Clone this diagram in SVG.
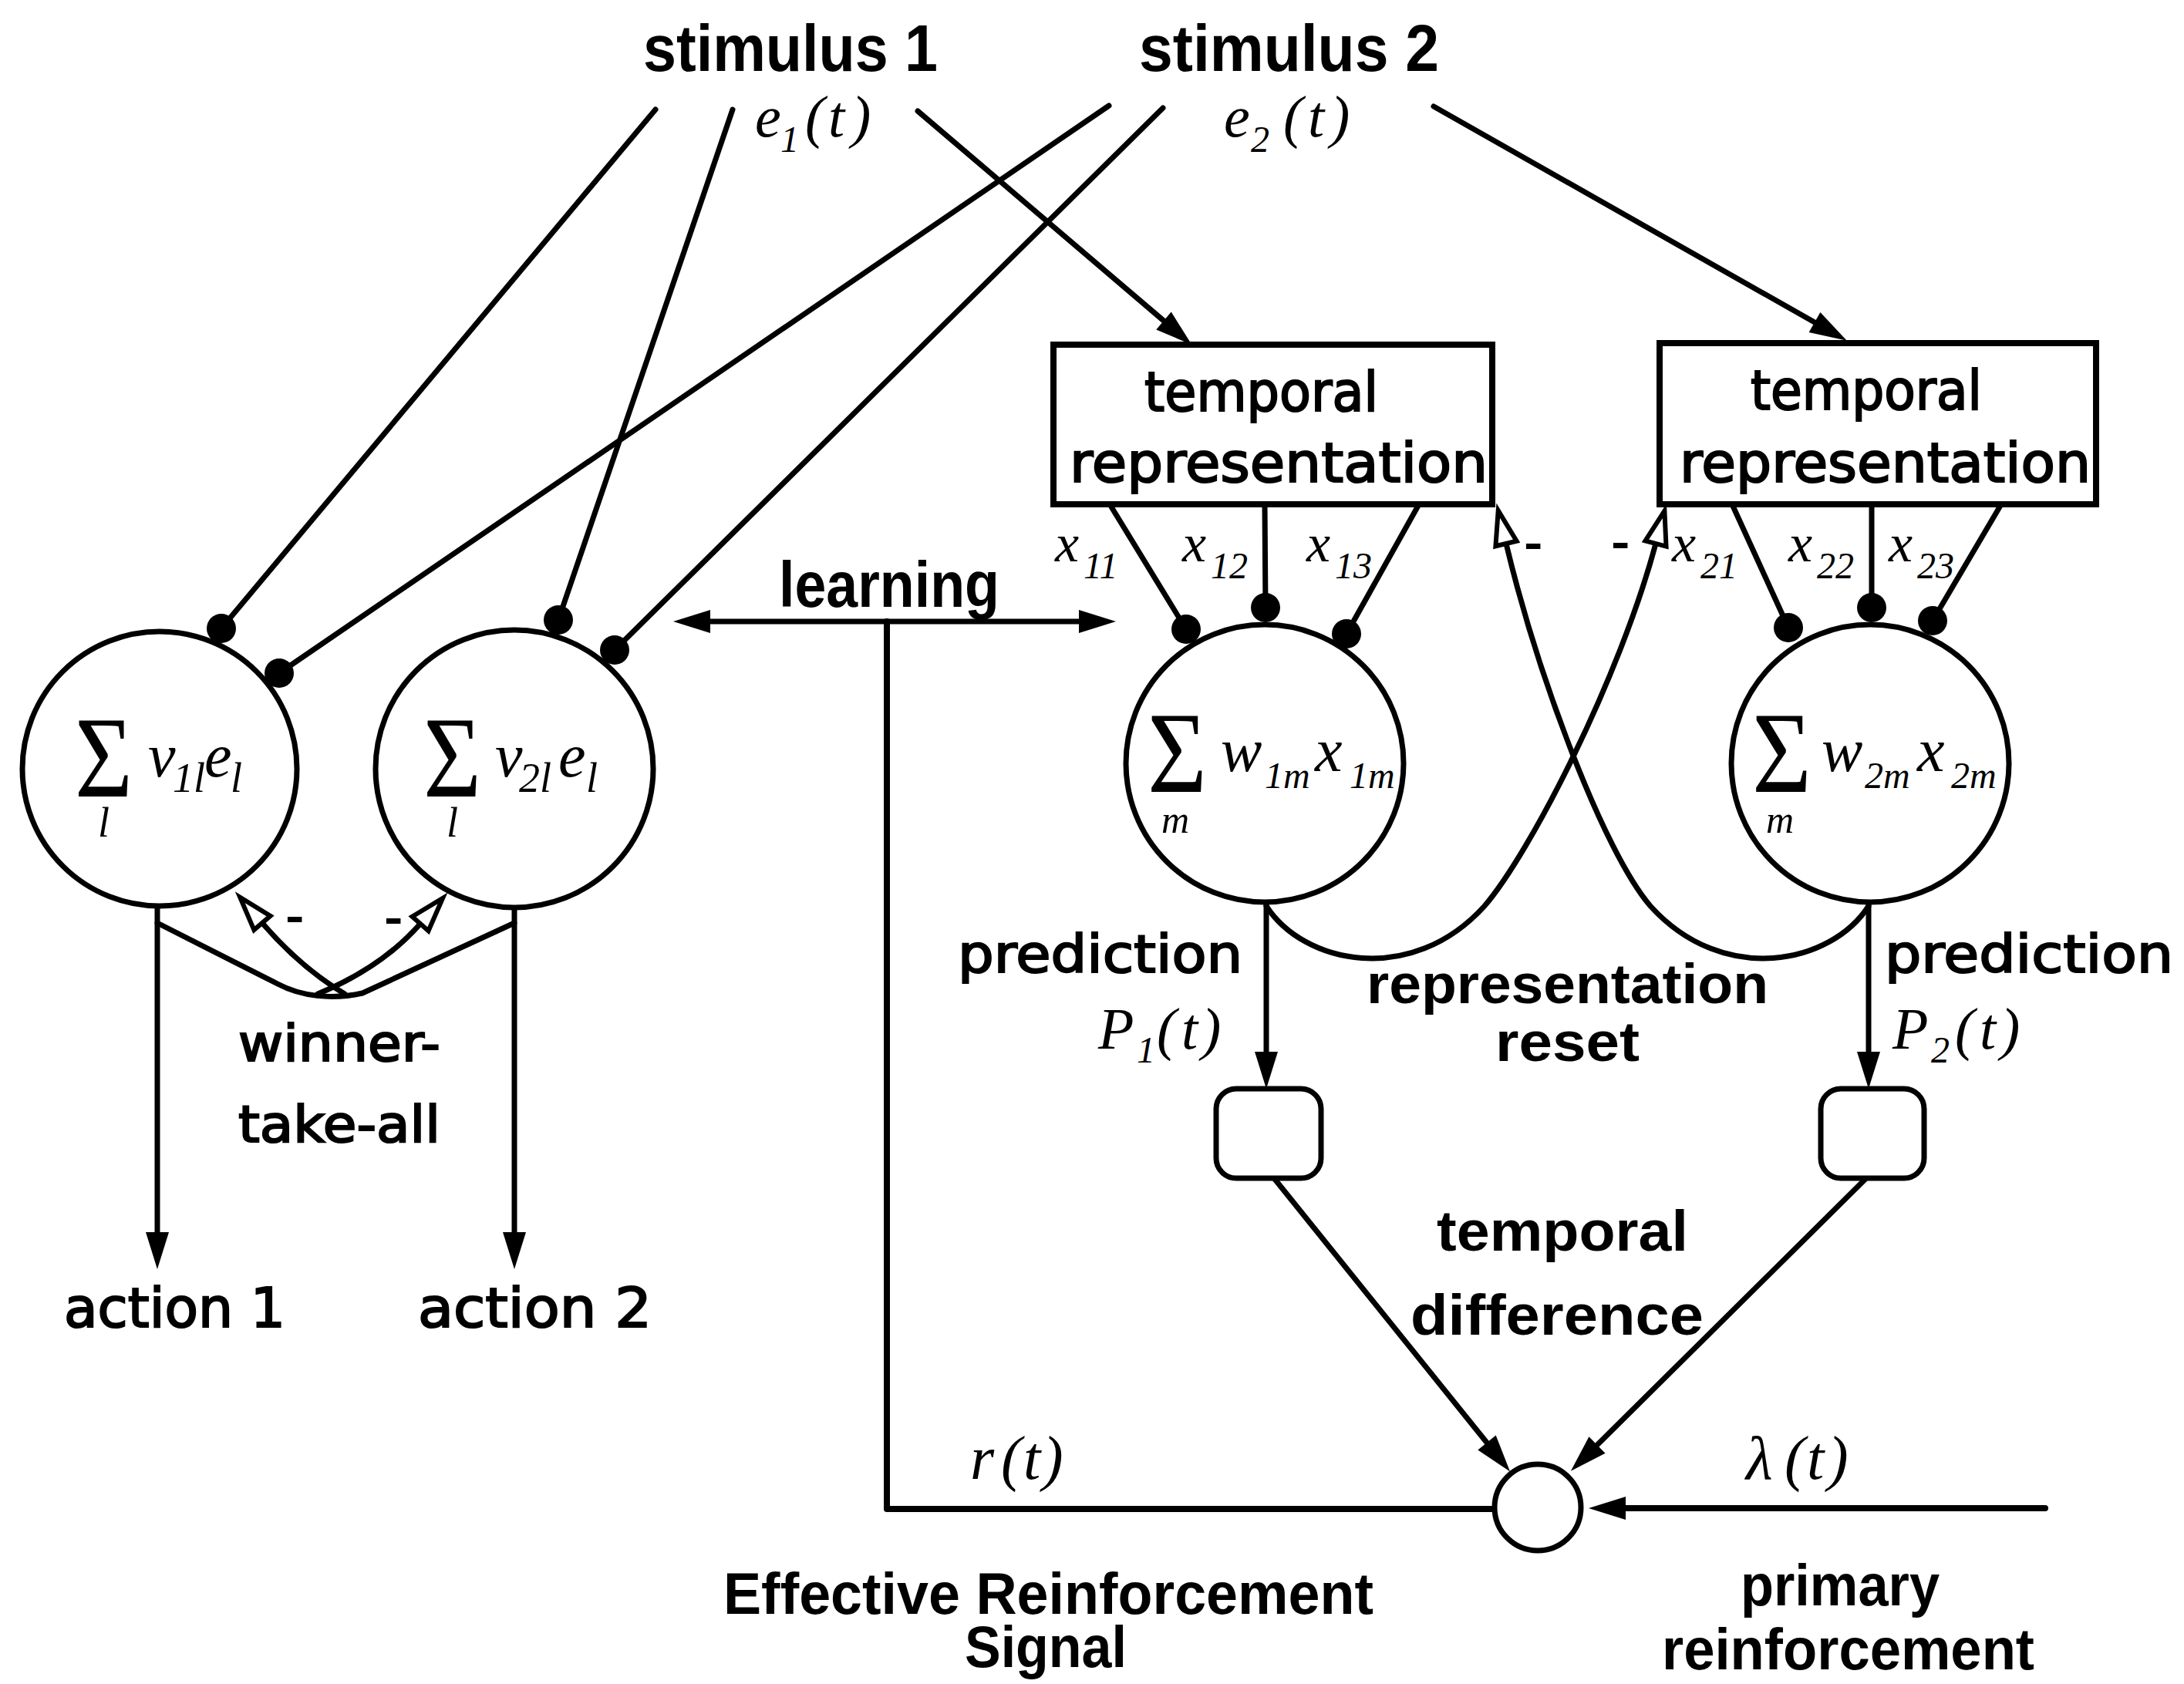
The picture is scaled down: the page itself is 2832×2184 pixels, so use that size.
<svg xmlns="http://www.w3.org/2000/svg" width="2832" height="2184" viewBox="0 0 2832 2184">
  <style>
    .ln { stroke: #000; stroke-width: 7; fill: none; stroke-linecap: round; stroke-linejoin: round; }
    .node { fill: #fff; stroke: #000; stroke-width: 7; }
    .box { fill: #fff; stroke: #000; stroke-width: 8; }
    .dot { fill: #000; }
    .g { font-family: "DejaVu Sans", Verdana, sans-serif; font-weight: normal; fill: #000; stroke: #000; stroke-width: 2.2; }
    .hb { font-family: "Liberation Sans", Arial, sans-serif; font-weight: bold; fill: #000; }
    .mi { font-family: "Liberation Serif", "Times New Roman", serif; font-style: italic; fill: #000; }
    .sig { font-family: "Liberation Serif", "Times New Roman", serif; font-style: normal; }
  </style>
  <defs>
    <marker id="ah" markerUnits="userSpaceOnUse" viewBox="0 -20 60 40" markerWidth="60" markerHeight="40" refX="0" refY="0" orient="auto-start-reverse" overflow="visible">
      <path d="M0,-15 L48,0 L0,15 z" fill="#000"/>
    </marker>
    <marker id="oa" markerUnits="userSpaceOnUse" viewBox="0 -20 60 40" markerWidth="60" markerHeight="40" refX="0" refY="0" orient="auto" overflow="visible">
      <path d="M0,-14 L44,0 L0,14 z" fill="#fff" stroke="#000" stroke-width="6" stroke-linejoin="miter"/>
    </marker>
  </defs>
  <rect width="2832" height="2184" fill="#fff"/>

  <!-- connectors -->
  <g id="connectors">
    <!-- stimulus inputs to action units -->
    <line class="ln" x1="850" y1="142" x2="287" y2="815"/>
    <line class="ln" x1="1438" y1="137" x2="362" y2="873"/>
    <line class="ln" x1="950" y1="142" x2="724" y2="804"/>
    <line class="ln" x1="1508" y1="140" x2="797" y2="843"/>
    <!-- stimulus inputs to temporal representations -->
    <line class="ln" x1="1190" y1="144" x2="1509" y2="416" marker-end="url(#ah)"/>
    <line class="ln" x1="1859" y1="138" x2="2353" y2="418" marker-end="url(#ah)"/>
    <!-- representation components x_1m, x_2m -->
    <line class="ln" x1="1439" y1="654" x2="1538" y2="816"/>
    <line class="ln" x1="1640" y1="654" x2="1641" y2="788"/>
    <line class="ln" x1="1840" y1="654" x2="1746" y2="822"/>
    <line class="ln" x1="2246" y1="654" x2="2319" y2="814"/>
    <line class="ln" x1="2427" y1="654" x2="2427" y2="788"/>
    <line class="ln" x1="2595" y1="654" x2="2506" y2="805"/>
    <!-- synapses -->
    <circle class="dot" cx="287" cy="815" r="19"/>
    <circle class="dot" cx="362" cy="873" r="19"/>
    <circle class="dot" cx="724" cy="804" r="19"/>
    <circle class="dot" cx="797" cy="843" r="19"/>
    <circle class="dot" cx="1538" cy="816" r="19"/>
    <circle class="dot" cx="1641" cy="788" r="19"/>
    <circle class="dot" cx="1746" cy="822" r="19"/>
    <circle class="dot" cx="2319" cy="814" r="19"/>
    <circle class="dot" cx="2427" cy="788" r="19"/>
    <circle class="dot" cx="2506" cy="805" r="19"/>
    <!-- action outputs -->
    <line class="ln" x1="204" y1="1176" x2="204" y2="1598" marker-end="url(#ah)"/>
    <line class="ln" x1="667" y1="1177" x2="667" y2="1598" marker-end="url(#ah)"/>
    <!-- winner-take-all -->
    <path class="ln" d="M204,1197 L360,1276 C390,1292 430,1297 470,1288 L667,1197"/>
    <path class="ln" d="M447,1289 Q390,1255 340,1197" marker-end="url(#oa)"/>
    <path class="ln" d="M412,1289 Q495,1255 545,1198" marker-end="url(#oa)"/>
    <!-- learning -->
    <line class="ln" x1="921" y1="806" x2="1399" y2="806" marker-start="url(#ah)" marker-end="url(#ah)"/>
    <polyline class="ln" points="1150,806 1150,1957 1938,1957" style="stroke-width:8"/>
    <!-- predictions -->
    <line class="ln" x1="1642" y1="1170" x2="1642" y2="1364" marker-end="url(#ah)"/>
    <line class="ln" x1="2423" y1="1170" x2="2423" y2="1364" marker-end="url(#ah)"/>
    <!-- representation reset -->
    <path class="ln" d="M1642,1175 C1690,1250 1830,1280 1925,1175 C1985,1105 2100,880 2147,705" marker-end="url(#oa)"/>
    <path class="ln" d="M2423,1175 C2375,1250 2235,1280 2140,1175 C2080,1105 1995,880 1953,705" marker-end="url(#oa)"/>
    <!-- temporal difference -->
    <line class="ln" x1="1652" y1="1528" x2="1928" y2="1871" marker-end="url(#ah)"/>
    <line class="ln" x1="2420" y1="1528" x2="2071" y2="1874" marker-end="url(#ah)"/>
    <!-- primary reinforcement -->
    <line class="ln" x1="2652" y1="1956" x2="2108" y2="1956" marker-end="url(#ah)" style="stroke-width:8"/>
  </g>

  <!-- stimulus labels -->
  <g id="stimulus1">
    <text class="hb" x="834" y="92" font-size="86" textLength="382" lengthAdjust="spacingAndGlyphs">stimulus 1</text>
    <text class="mi" font-size="76" y="177"><tspan x="979">e</tspan><tspan x="1012" y="197" font-size="48">1</tspan><tspan x="1044" y="177">(</tspan><tspan x="1074">t</tspan><tspan x="1104">)</tspan></text>
  </g>
  <g id="stimulus2">
    <text class="hb" x="1477" y="92" font-size="86" textLength="389" lengthAdjust="spacingAndGlyphs">stimulus 2</text>
    <text class="mi" font-size="76" y="177"><tspan x="1587">e</tspan><tspan x="1622" y="197" font-size="48">2</tspan><tspan x="1664" y="177">(</tspan><tspan x="1696">t</tspan><tspan x="1725">)</tspan></text>
  </g>

  <!-- temporal representation boxes -->
  <g id="temporal-representation-1">
    <rect class="box" x="1366" y="447" width="569" height="207"/>
    <text class="g" x="1484" y="533" font-size="72" textLength="303" lengthAdjust="spacingAndGlyphs">temporal</text>
    <text class="g" x="1387" y="625" font-size="72" textLength="542" lengthAdjust="spacingAndGlyphs">representation</text>
  </g>
  <g id="temporal-representation-2">
    <rect class="box" x="2152" y="445" width="566" height="209"/>
    <text class="g" x="2270" y="531" font-size="72" textLength="300" lengthAdjust="spacingAndGlyphs">temporal</text>
    <text class="g" x="2178" y="625" font-size="72" textLength="533" lengthAdjust="spacingAndGlyphs">representation</text>
  </g>

  <!-- component labels -->
  <g id="components">
    <text class="mi" font-size="70" y="728"><tspan x="1368">x</tspan><tspan x="1405" y="750" font-size="48">11</tspan></text>
    <text class="mi" font-size="70" y="728"><tspan x="1533">x</tspan><tspan x="1570" y="750" font-size="48">12</tspan></text>
    <text class="mi" font-size="70" y="728"><tspan x="1694">x</tspan><tspan x="1731" y="750" font-size="48">13</tspan></text>
    <text class="mi" font-size="70" y="728"><tspan x="2168">x</tspan><tspan x="2205" y="750" font-size="48">21</tspan></text>
    <text class="mi" font-size="70" y="728"><tspan x="2319">x</tspan><tspan x="2356" y="750" font-size="48">22</tspan></text>
    <text class="mi" font-size="70" y="728"><tspan x="2449">x</tspan><tspan x="2486" y="750" font-size="48">23</tspan></text>
    <text class="g" x="1977" y="726" font-size="62">-</text>
    <text class="g" x="2090" y="725" font-size="62">-</text>
  </g>

  <!-- action units: weighted sums of stimulus traces -->
  <g id="action-unit-1">
    <circle class="node" cx="207" cy="997" r="178"/>
    <text class="mi" font-size="80"><tspan class="sig" x="97" y="1033" font-size="150" textLength="75" lengthAdjust="spacingAndGlyphs">Σ</tspan><tspan x="127" y="1085" font-size="54">l</tspan><tspan x="192" y="1007">v</tspan><tspan x="224" y="1027" font-size="54">1l</tspan><tspan x="265" y="1007">e</tspan><tspan x="299" y="1027" font-size="54">l</tspan></text>
  </g>
  <g id="action-unit-2">
    <circle class="node" cx="667" cy="997" r="180"/>
    <text class="mi" font-size="80"><tspan class="sig" x="549" y="1033" font-size="150" textLength="75" lengthAdjust="spacingAndGlyphs">Σ</tspan><tspan x="579" y="1085" font-size="54">l</tspan><tspan x="642" y="1007">v</tspan><tspan x="673" y="1027" font-size="54">2l</tspan><tspan x="724" y="1007">e</tspan><tspan x="760" y="1027" font-size="54">l</tspan></text>
  </g>

  <!-- prediction units: weighted sums of representation components -->
  <g id="prediction-unit-1">
    <circle class="node" cx="1640" cy="990" r="180"/>
    <text class="mi" font-size="80"><tspan class="sig" x="1488" y="1027" font-size="150" textLength="77" lengthAdjust="spacingAndGlyphs">Σ</tspan><tspan x="1506" y="1080" font-size="50">m</tspan><tspan x="1583" y="1000">w</tspan><tspan x="1640" y="1022" font-size="48">1m</tspan><tspan x="1705" y="1000">x</tspan><tspan x="1750" y="1022" font-size="48">1m</tspan></text>
  </g>
  <g id="prediction-unit-2">
    <circle class="node" cx="2425" cy="990" r="180"/>
    <text class="mi" font-size="80"><tspan class="sig" x="2272" y="1027" font-size="150" textLength="77" lengthAdjust="spacingAndGlyphs">Σ</tspan><tspan x="2290" y="1080" font-size="50">m</tspan><tspan x="2362" y="1000">w</tspan><tspan x="2418" y="1022" font-size="48">2m</tspan><tspan x="2486" y="1000">x</tspan><tspan x="2530" y="1022" font-size="48">2m</tspan></text>
  </g>

  <!-- winner-take-all label and actions -->
  <g id="winner-take-all">
    <text class="g" x="309" y="1376" font-size="66" textLength="262" lengthAdjust="spacingAndGlyphs">winner-</text>
    <text class="g" x="309" y="1481" font-size="66" textLength="262" lengthAdjust="spacingAndGlyphs">take-all</text>
    <text class="g" x="371" y="1210" font-size="62">-</text>
    <text class="g" x="499" y="1212" font-size="62">-</text>
  </g>
  <g id="action1">
    <text class="g" x="83" y="1721" font-size="72" textLength="287" lengthAdjust="spacingAndGlyphs">action 1</text>
  </g>
  <g id="action2">
    <text class="g" x="542" y="1721" font-size="72" textLength="303" lengthAdjust="spacingAndGlyphs">action 2</text>
  </g>

  <!-- learning label -->
  <g id="learning">
    <text class="hb" x="1010" y="787" font-size="84" textLength="286" lengthAdjust="spacingAndGlyphs">learning</text>
  </g>

  <!-- prediction labels -->
  <g id="prediction-label-1">
    <text class="g" x="1242" y="1261" font-size="68" textLength="369" lengthAdjust="spacingAndGlyphs">prediction</text>
    <text class="mi" font-size="76" y="1360"><tspan x="1424">P</tspan><tspan x="1474" y="1378" font-size="48">1</tspan><tspan x="1500" y="1360">(</tspan><tspan x="1532">t</tspan><tspan x="1558">)</tspan></text>
  </g>
  <g id="prediction-label-2">
    <text class="g" x="2444" y="1261" font-size="68" textLength="374" lengthAdjust="spacingAndGlyphs">prediction</text>
    <text class="mi" font-size="76" y="1360"><tspan x="2454">P</tspan><tspan x="2504" y="1378" font-size="48">2</tspan><tspan x="2535" y="1360">(</tspan><tspan x="2567">t</tspan><tspan x="2594">)</tspan></text>
  </g>

  <!-- representation reset label -->
  <g id="representation-reset">
    <text class="hb" x="1772" y="1301" font-size="72" textLength="521" lengthAdjust="spacingAndGlyphs">representation</text>
    <text class="hb" x="1939" y="1376" font-size="72" textLength="187" lengthAdjust="spacingAndGlyphs">reset</text>
  </g>

  <!-- delay units -->
  <g id="delay-1">
    <rect class="node" x="1577" y="1412" width="136" height="116" rx="26"/>
  </g>
  <g id="delay-2">
    <rect class="node" x="2361" y="1412" width="134" height="116" rx="26"/>
  </g>

  <!-- temporal difference label -->
  <g id="temporal-difference">
    <text class="hb" x="1863" y="1622" font-size="74" textLength="326" lengthAdjust="spacingAndGlyphs">temporal</text>
    <text class="hb" x="1829" y="1731" font-size="74" textLength="380" lengthAdjust="spacingAndGlyphs">difference</text>
  </g>

  <!-- summing junction -->
  <g id="junction">
    <circle class="node" cx="1994" cy="1955" r="56"/>
  </g>

  <!-- reinforcement signals -->
  <g id="effective-reinforcement">
    <text class="mi" font-size="80" y="1918"><tspan x="1258">r</tspan><tspan x="1298">(</tspan><tspan x="1327">t</tspan><tspan x="1352">)</tspan></text>
    <text class="hb" x="938" y="2093" font-size="76" textLength="843" lengthAdjust="spacingAndGlyphs">Effective Reinforcement</text>
    <text class="hb" x="1251" y="2162" font-size="76" textLength="210" lengthAdjust="spacingAndGlyphs">Signal</text>
  </g>
  <g id="primary-reinforcement">
    <text class="mi" font-size="80" y="1918"><tspan x="2264">λ</tspan><tspan x="2314">(</tspan><tspan x="2343">t</tspan><tspan x="2370">)</tspan></text>
    <text class="hb" x="2257" y="2082" font-size="76" textLength="258" lengthAdjust="spacingAndGlyphs">primary</text>
    <text class="hb" x="2155" y="2165" font-size="76" textLength="483" lengthAdjust="spacingAndGlyphs">reinforcement</text>
  </g>
</svg>
